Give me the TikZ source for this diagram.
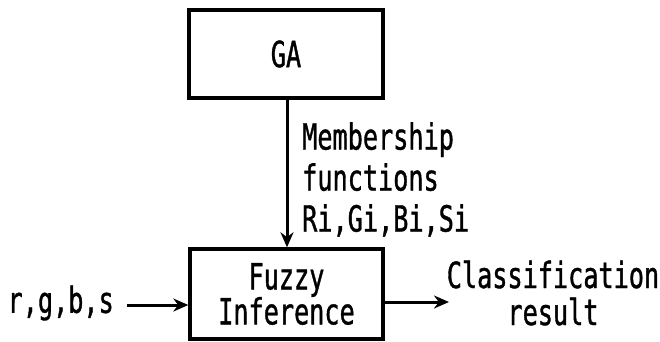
\documentclass[tikz,border=0pt]{standalone}
\usepackage{fontspec}
\setmainfont{DejaVu Sans Mono}[FakeStretch=0.70,FakeBold=1]
\usetikzlibrary{arrows.meta}
\begin{document}
\begin{tikzpicture}[x=1pt,y=-1pt,
  blk/.style={draw,line width=3.4pt,inner sep=0pt},
  lbl/.style={inner sep=0pt},
  arr/.style={line width=3pt,-{Stealth[length=15pt,width=13pt]}},
  every node/.append style={font=\fontsize{36}{37}\selectfont}]
\useasboundingbox (0,0) rectangle (660,341);
\node[blk,minimum width=194pt,minimum height=88pt] (ga) at (286,54) {GA};
\node[blk,minimum width=193pt,minimum height=90pt,align=center] (fz) at (286.5,294) {Fuzzy\\[-2pt]Inference};
\node[lbl,align=left,anchor=north west,font=\fontsize{36}{41}\selectfont] (mf) at (302,122) {Membership\\functions\\Ri,Gi,Bi,Si};
\node[lbl,anchor=east] (in) at (114,303) {r,g,b,s};
\node[lbl,align=center] (out) at (553,293) {Classification\\result};
\coordinate (inS) at (127,305);
\coordinate (outE) at (449,302);
\draw[arr] (ga.south -| 287,0) -- (fz.north -| 287,0);
\draw[arr] (inS) -- (fz.west |- inS);
\draw[arr] (fz.east |- outE) -- (outE);
\end{tikzpicture}
\end{document}
